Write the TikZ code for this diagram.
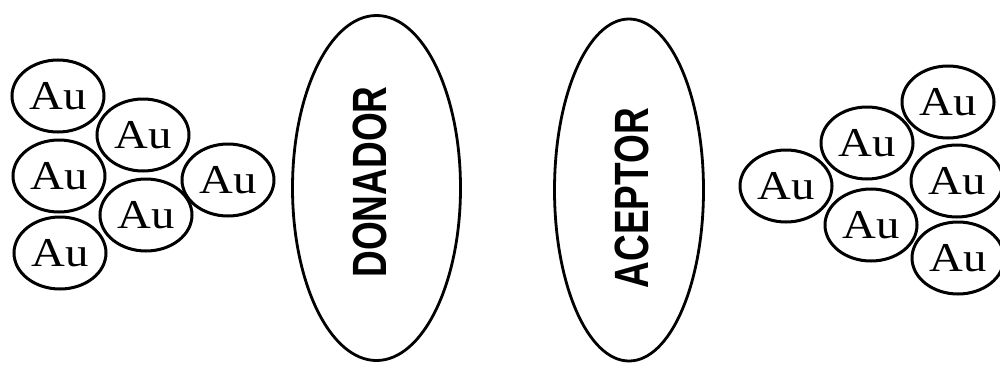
\documentclass[tikz,border=0pt]{standalone}
\usepackage{fontspec}
\setmainfont{Liberation Serif}
\setsansfont{Liberation Sans}
\usepackage{graphicx}
\usetikzlibrary{positioning,shapes.geometric}
\definecolor{ink}{HTML}{000000}
\newcommand{\aulbl}{\scalebox{1.14}[1]{Au}}
\tikzset{
  % --- nodes
  au/.style      = {ellipse, draw=ink, line width=3pt, minimum width=92pt,
                    minimum height=72pt, inner sep=0pt,
                    font=\fontsize{41}{41}\selectfont},
  oval/.style    = {ellipse, draw=ink, line width=2.8pt, inner sep=0pt},
  ovallbl/.style = {rotate=90, inner sep=0pt,
                    font=\sffamily\bfseries\fontsize{37}{37}\selectfont},
}
\begin{document}
\begin{tikzpicture}[x=1pt,y=-1pt]
  \useasboundingbox (0,0) rectangle (1000,364);
  % left cluster
  \node[au] (la) at (58,96)   {\aulbl};
  \node[au] (lb) at (143,135) {\aulbl};
  \node[au] (lc) at (59,176)  {\aulbl};
  \node[au] (ld) at (146,215) {\aulbl};
  \node[au] (le) at (228,180) {\aulbl};
  \node[au] (lf) at (60,253)  {\aulbl};
  % donor / acceptor
  \node[oval, minimum width=168pt, minimum height=345pt] (don) at (376.5,188) {};
  \node[ovallbl] (donlbl) at (370,182) {\scalebox{1}[1.3]{DONADOR}};
  \node[oval, minimum width=149pt, minimum height=342pt] (acep) at (629,190) {};
  \node[ovallbl] (aceplbl) at (632,198) {\scalebox{1}[1.3]{ACEPTOR}};
  % right cluster
  \node[au] (ra) at (786,186) {\aulbl};
  \node[au] (rb) at (867,143) {\aulbl};
  \node[au] (rc) at (871,225) {\aulbl};
  \node[au] (rd) at (948,102) {\aulbl};
  \node[au] (re) at (957,181) {\aulbl};
  \node[au] (rf) at (958,258) {\aulbl};
\end{tikzpicture}
\end{document}
